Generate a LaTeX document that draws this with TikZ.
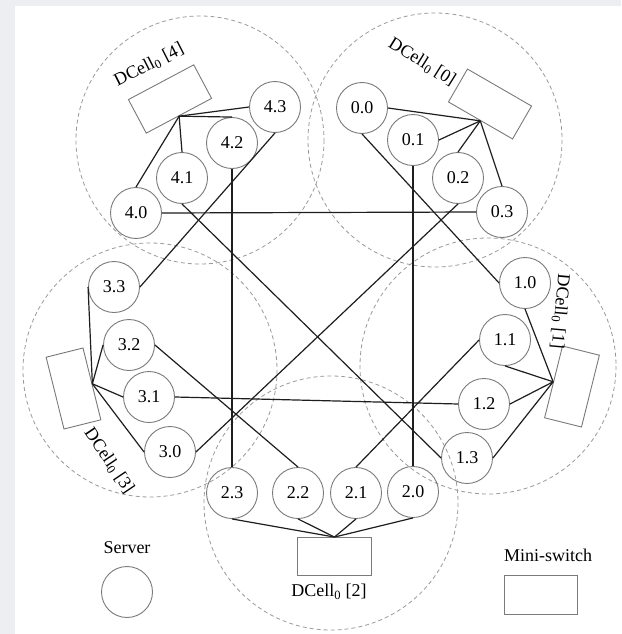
\documentclass[tikz,border=0pt]{standalone}
\usepackage{fontspec}
\setmainfont{Liberation Serif}
\definecolor{bggray}{HTML}{ECEEF2}
\definecolor{srvgray}{HTML}{7A7A7A}
\definecolor{dashgray}{HTML}{9A9A9A}
\definecolor{linkcol}{HTML}{1E1E1E}
\begin{document}
\begin{tikzpicture}[x=1pt,y=-1pt,
  srv/.style={circle,draw=srvgray,line width=0.9pt,minimum size=51pt,inner sep=0pt,font=\fontsize{18}{20}\selectfont},
  sw/.style={rectangle,draw=srvgray,line width=0.9pt,minimum width=74pt,minimum height=38pt,inner sep=0pt},
  cell/.style={draw=dashgray,line width=0.8pt,dash pattern=on 4pt off 3pt},
  link/.style={draw=linkcol,line width=1.2pt},
  lbl/.style={font=\fontsize{18}{20}\selectfont,inner sep=0pt}]
\useasboundingbox (0,0) rectangle (621,634);
\fill[bggray] (0,0) rectangle (621,634);
\fill[white] (15,6) rectangle (621,634);
% DCell_0 regions
\draw[cell] (200,140) circle (124);
\draw[cell] (435,140) circle (127);
\draw[cell] (488,366) circle (128);
\draw[cell] (150,370) circle (127);
\draw[cell] (331,503) circle (127);
% switches
\node[sw,rotate=28] (s4) at (170,99) {};
\node[sw,rotate=-30] (s0) at (490,104) {};
\node[sw,rotate=76] (s1) at (572,386.5) {};
\node[sw,rotate=-76] (s3) at (73.5,388.5) {};
\node[sw] (s2) at (334.5,556.5) {};
% cell labels
\node[lbl,rotate=27] (l4) at (149,65) {DCell\textsubscript{0} [4]};
\node[lbl,rotate=-32] (l0) at (422,62) {DCell\textsubscript{0} [0]};
\node[lbl,rotate=-95] (l1) at (560,311) {DCell\textsubscript{0} [1]};
\node[lbl,rotate=-56] (l3) at (109,461) {DCell\textsubscript{0} [3]};
\node[lbl] (l2) at (329,592) {DCell\textsubscript{0} [2]};
% servers
\node[srv] (n43) at (275,107) {4.3};
\node[srv] (n42) at (232,143) {4.2};
\node[srv] (n41) at (182,178) {4.1};
\node[srv] (n40) at (136,213) {4.0};
\node[srv] (n00) at (362,108) {0.0};
\node[srv] (n01) at (413,140) {0.1};
\node[srv] (n02) at (458,178) {0.2};
\node[srv] (n03) at (502,212) {0.3};
\node[srv] (n10) at (525,283) {1.0};
\node[srv] (n11) at (505,340) {1.1};
\node[srv] (n12) at (484,404) {1.2};
\node[srv] (n13) at (467,458) {1.3};
\node[srv] (n20) at (413,492) {2.0};
\node[srv] (n21) at (356,493) {2.1};
\node[srv] (n22) at (298,493) {2.2};
\node[srv] (n23) at (232,493) {2.3};
\node[srv] (n33) at (114,287) {3.3};
\node[srv] (n32) at (129,345) {3.2};
\node[srv] (n31) at (149,397) {3.1};
\node[srv] (n30) at (170,452) {3.0};
% switch to server links
\draw[link] (s4.south) -- (n43.west);
\draw[link] (s4.south) -- (n42.north);
\draw[link] (s4.south) -- (n41.north);
\draw[link] (s4.south) -- (n40.north);
\draw[link] (s0.south) -- (n00.east);
\draw[link] (s0.south) -- (n01.east);
\draw[link] (s0.south) -- (n02.north);
\draw[link] (s0.south) -- (n03.north);
\draw[link] (s1.north) -- (n10.south);
\draw[link] (s1.north) -- (n11.south);
\draw[link] (s1.north) -- (n12.east);
\draw[link] (s1.north) -- (n13.east);
\draw[link] (s2.north) -- (n20.south);
\draw[link] (s2.north) -- (n21.south);
\draw[link] (s2.north) -- (n22.south);
\draw[link] (s2.north) -- (n23.south);
\draw[link] (s3.north) -- (n33.west);
\draw[link] (s3.north) -- (n32.west);
\draw[link] (s3.north) -- (n31.west);
\draw[link] (s3.north) -- (n30.west);
% inter-cell links
\draw[link] (n00.south) -- (n10.west);
\draw[link] (n01.south) -- (n20.north);
\draw[link] (n02.south) -- (n30.east);
\draw[link] (n03.west) -- (n40.east);
\draw[link] (n11.west) -- (n21.north);
\draw[link] (n12.west) -- (n31.east);
\draw[link] (n13.west) -- (n41.south);
\draw[link] (n22.north) -- (n32.east);
\draw[link] (n23.north) -- (n42.south);
\draw[link] (n33.east) -- (n43.south);
% legend
\node[lbl] (lsrv) at (127,548) {Server};
\node[srv] (legsrv) at (127,592) {};
\node[lbl] (lsw) at (548,555) {Mini-switch};
\node[sw,minimum width=73pt,minimum height=39pt] (legsw) at (540.5,594.5) {};
\end{tikzpicture}
\end{document}
